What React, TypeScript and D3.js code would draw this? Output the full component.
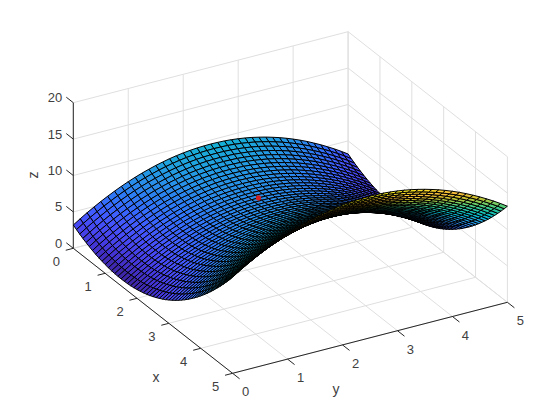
import React from "react";
import * as d3 from "d3";

const xGrid = d3.range(51).map((k) => k * 0.1);
const yGrid = d3.range(41).map((k) => k * 0.125);
// surface height read along the ridge line y = 2.5, one value per x grid line
const zAlongX = [
  9.45, 9.16, 8.89, 8.64, 8.41, 8.2, 8.01, 7.84, 7.69, 7.56, 7.45, 7.36, 7.29, 7.24, 7.21, 7.2, 7.21, 7.24, 7.29, 7.36,
  7.45, 7.56, 7.69, 7.84, 8.01, 8.2, 8.41, 8.64, 8.89, 9.16, 9.45, 9.76, 10.09, 10.44, 10.81, 11.2, 11.61, 12.04, 12.49,
  12.96, 13.45, 13.96, 14.49, 15.04, 15.61, 16.2, 16.81, 17.44, 18.09, 18.76, 19.45,
];
// how far the surface falls away from that line, one value per y grid line
const dropAlongY = [
  6.25, 5.64, 5.06, 4.52, 4.0, 3.52, 3.06, 2.64, 2.25, 1.89, 1.56, 1.27, 1.0, 0.77, 0.56, 0.39, 0.25, 0.14, 0.06, 0.02,
  0, 0.02, 0.06, 0.14, 0.25, 0.39, 0.56, 0.77, 1.0, 1.27, 1.56, 1.89, 2.25, 2.64, 3.06, 3.52, 4.0, 4.52, 5.06, 5.64,
  6.25,
];
const xTicks = [0, 1, 2, 3, 4, 5];
const yTicks = [0, 1, 2, 3, 4, 5];
const zTicks = [0, 5, 10, 15, 20];
const marked = { x: 1.5, y: 2.5, z: 7.2 };
const parulaStops = [
  "#3e26a8", "#4435d8", "#4746f1", "#4456fd", "#3867fe", "#2e7af6", "#2a8cea", "#239ce4", "#1baad9", "#03b8ca",
  "#19c0b0", "#2ec695", "#5ecc72", "#9ec946", "#d6be2b", "#f6ba3c", "#fdd02c", "#f5e921", "#f9fb15",
];

const sx0 = 73.3;
const sy0 = 248.3;
const xToSx = d3.scaleLinear().domain([0, 5]).range([0, 159.3]);
const xToSy = d3.scaleLinear().domain([0, 5]).range([0, 125]);
const yToSx = d3.scaleLinear().domain([0, 5]).range([0, 274.8]);
const yToSy = d3.scaleLinear().domain([0, 5]).range([0, -71]);
const zToSy = d3.scaleLinear().domain([0, 20]).range([0, -145.6]);
const project = (x: number, y: number, z: number): [number, number] => [
  sx0 + xToSx(x) + yToSx(y),
  sy0 + xToSy(x) + yToSy(y) + zToSy(z),
];

const zGrid = xGrid.map((_, i) => yGrid.map((_, j) => zAlongX[i] - dropAlongY[j]));
const zFlat = zGrid.flat();
const zMin = d3.min(zFlat) as number;
const zMax = d3.max(zFlat) as number;
const colorScale = d3
  .scaleLinear<string>()
  .domain(parulaStops.map((_, k) => zMin + ((zMax - zMin) * k) / (parulaStops.length - 1)))
  .range(parulaStops)
  .interpolate(d3.interpolateRgb);

const polyline = d3.line();
const GRID = "#dfdfdf";
const AXIS = "#262626";
const TEXT = "#404040";
const FONT = "'Liberation Sans', Arial, sans-serif";

function seg(a: [number, number, number], b: [number, number, number]) {
  return polyline([project(...a), project(...b)]) as string;
}

export default function App() {
  const faces: { d: string; fill: string }[] = [];
  for (let i = 0; i < xGrid.length - 1; i++) {
    for (let j = yGrid.length - 2; j >= 0; j--) {
      const pts = [
        project(xGrid[i], yGrid[j], zGrid[i][j]),
        project(xGrid[i + 1], yGrid[j], zGrid[i + 1][j]),
        project(xGrid[i + 1], yGrid[j + 1], zGrid[i + 1][j + 1]),
        project(xGrid[i], yGrid[j + 1], zGrid[i][j + 1]),
      ];
      faces.push({ d: (polyline(pts) as string) + "Z", fill: colorScale(zGrid[i][j]) });
    }
  }
  const gridLines: string[] = [];
  xTicks.forEach((x) => {
    gridLines.push(seg([x, 0, 0], [x, 5, 0]));
    gridLines.push(seg([x, 5, 0], [x, 5, 20]));
  });
  yTicks.forEach((y) => {
    gridLines.push(seg([0, y, 0], [5, y, 0]));
    gridLines.push(seg([0, y, 0], [0, y, 20]));
  });
  zTicks.forEach((z) => {
    gridLines.push(seg([0, 0, z], [0, 5, z]));
    gridLines.push(seg([0, 5, z], [5, 5, z]));
  });
  const TICK = 0.22;
  const [mx, my] = project(marked.x, marked.y, marked.z);
  return (
    <svg
      width={560}
      height={420}
      viewBox="0 0 560 420"
      style={{ position: "fixed", left: 0, top: 0, background: "#fff" }}
      fontFamily={FONT}
    >
      <g fill="none" stroke={GRID} strokeWidth={1}>
        {gridLines.map((d, k) => (
          <path key={k} d={d} />
        ))}
      </g>
      <g fill="none" stroke={AXIS} strokeWidth={1}>
        <path d={seg([0, 0, 0], [0, 0, 20])} />
        <path d={seg([0, 0, 0], [5, 0, 0])} />
        <path d={seg([5, 0, 0], [5, 5, 0])} />
        {zTicks.map((z) => (
          <path key={"z" + z} d={seg([0, 0, z], [-TICK, 0, z])} />
        ))}
        {xTicks.map((x) => (
          <path key={"x" + x} d={seg([x, 0, 0], [x, -TICK / 1.6, 0])} />
        ))}
        {yTicks.map((y) => (
          <path key={"y" + y} d={seg([5, y, 0], [5 + TICK, y, 0])} />
        ))}
      </g>
      <g stroke="#000" strokeWidth={1} strokeLinejoin="round">
        {faces.map((f, k) => (
          <path key={k} d={f.d} fill={f.fill} />
        ))}
      </g>
      <circle cx={mx} cy={my} r={2.6} fill="#d21f1f" />
      <g fill={TEXT} fontSize={13}>
        {zTicks.map((z) => {
          const [px, py] = project(0, 0, z);
          return (
            <text key={z} x={px - 11} y={py - 0.5} textAnchor="end">
              {z}
            </text>
          );
        })}
        {xTicks.map((x) => {
          const [px, py] = project(x, 0, 0);
          return (
            <text key={x} x={px - 17} y={py + 18} textAnchor="middle">
              {x}
            </text>
          );
        })}
        {yTicks.map((y) => {
          const [px, py] = project(5, y, 0);
          return (
            <text key={y} x={px + 13} y={py + 23} textAnchor="middle">
              {y}
            </text>
          );
        })}
      </g>
      <g fill={TEXT} fontSize={14}>
        <text x={156} y={382} textAnchor="middle">x</text>
        <text x={336} y={394} textAnchor="middle">y</text>
        <text transform="translate(38,175) rotate(-90)" textAnchor="middle">z</text>
      </g>
    </svg>
  );
}
